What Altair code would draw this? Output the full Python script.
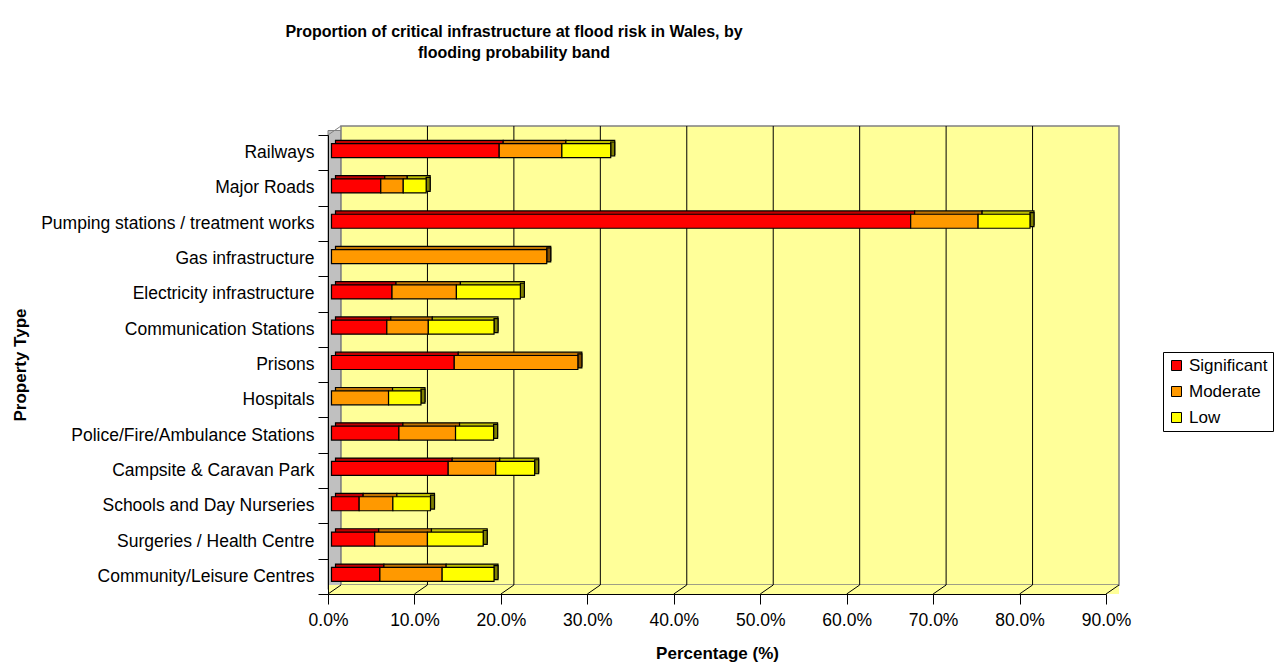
import altair as alt
import pandas as pd

# Property types, top to bottom
categories = [
    "Railways",
    "Major Roads",
    "Pumping stations / treatment works",
    "Gas infrastructure",
    "Electricity infrastructure",
    "Communication Stations",
    "Prisons",
    "Hospitals",
    "Police/Fire/Ambulance Stations",
    "Campsite & Caravan Park",
    "Schools and Day Nurseries",
    "Surgeries / Health Centre",
    "Community/Leisure Centres",
]

# Percentage of each property type in each flooding probability band
significant = [19.4, 5.7, 67.0, 0.0, 7.0, 6.4, 14.2, 0.0, 7.8, 13.5, 3.2, 5.0, 5.6]
moderate = [7.25, 2.6, 7.8, 24.9, 7.45, 4.8, 14.3, 6.6, 6.55, 5.5, 3.9, 6.1, 7.2]
low = [5.65, 2.65, 6.0, 0.0, 7.4, 7.6, 0.0, 3.75, 4.4, 4.5, 4.35, 6.45, 6.0]

bands = ["Significant", "Moderate", "Low"]
face_colors = ["#FF0000", "#FF9900", "#FFFF00"]
top_colors = ["#C00000", "#BF7300", "#BFBF00"]
side_colors = ["#800000", "#804C00", "#808000"]

x_ticks = [0, 10, 20, 30, 40, 50, 60, 70, 80, 90]

W, H = 778, 459          # front frame of the plot
DX, DY = 13, -9          # depth of the 3-D box
BX, BY = 3.5, -2         # bars sit slightly back from the front frame
SX, SY = 4, -3.3         # thickness of each bar block

FONT = "Liberation Sans"
FS = 17.5

# stacked segments in long form
rows = []
for i, cat in enumerate(categories):
    start = 0.0
    parts = []
    for band, vals, tc, sc in zip(bands, [significant, moderate, low], top_colors, side_colors):
        v = vals[i]
        if v > 0:
            parts.append({"cat": cat, "band": band, "start": start, "end": start + v,
                          "top": tc, "side": sc, "last": False})
        start += v
    parts[-1]["last"] = True
    rows.extend(parts)
segs = pd.DataFrame(rows)
ends = segs[segs["last"]]

x_scale = alt.Scale(domain=[0, 90], nice=False, zero=True)
y_enc = alt.Y("cat:N", sort=categories,
              scale=alt.Scale(domain=categories, paddingInner=0, paddingOuter=0),
              axis=alt.Axis(title="Property Type", titleFont=FONT, titleFontSize=17,
                            titleFontWeight="bold", titleAngle=-90, titleX=-308, titleY=H / 2,
                            titleAlign="center", titleBaseline="middle",
                            labelFont=FONT, labelFontSize=FS, labelColor="#000000",
                            labelPadding=4, labelLimit=400, tickBand="extent", tickSize=10,
                            tickColor="#000000", domainColor="#000000", grid=False,
                            zindex=2))

base = alt.Chart(pd.DataFrame({"k": [0]}))

# left side wall
left_wall = base.mark_rect(fill="#C0C0C0", stroke="#808080", strokeWidth=1,
                           x2Offset=DX).encode(
    x=alt.datum(0, scale=x_scale), x2=alt.datum(0),
    y=alt.value(DY / 2), y2=alt.value(H + DY / 2))

# back wall
back_wall = base.mark_rect(fill="#FFFF99", stroke="#808080", strokeWidth=1.5,
                           xOffset=DX, x2Offset=DX, yOffset=DY, y2Offset=DY).encode(
    x=alt.datum(0, scale=x_scale), x2=alt.datum(90),
    y=alt.value(0), y2=alt.value(H))

# floor
floor = base.mark_rect(fill="#FFFF99", x2Offset=DX).encode(
    x=alt.datum(0, scale=x_scale), x2=alt.datum(90),
    y=alt.value(H + DY), y2=alt.value(H))

grid_df = pd.DataFrame({"t": x_ticks[1:-1]})
gridlines = alt.Chart(grid_df).mark_rule(color="#000000", strokeWidth=1,
                                         xOffset=DX, yOffset=DY, y2Offset=DY).encode(
    x=alt.X("t:Q", scale=x_scale), y=alt.value(0), y2=alt.value(H))

diag_df = pd.DataFrame({"t": x_ticks})
floor_lines = alt.Chart(diag_df).mark_rule(color="#000000", strokeWidth=1, x2Offset=DX).encode(
    x=alt.X("t:Q", scale=x_scale), x2="t:Q",
    y=alt.value(H), y2=alt.value(H + DY))

top_edge = base.mark_rule(color="#808080", strokeWidth=1, x2Offset=DX).encode(
    x=alt.datum(0, scale=x_scale), x2=alt.datum(0),
    y=alt.value(0), y2=alt.value(DY))

# bar blocks: a darker block behind each face gives the top face
tops = alt.Chart(segs).mark_bar(size=14, stroke="#000000", strokeWidth=1.2,
                                xOffset=BX + SX, x2Offset=BX + SX, yOffset=BY + SY).encode(
    x=alt.X("start:Q", scale=x_scale), x2="end:Q",
    y=y_enc,
    fill=alt.Fill("top:N", scale=None))

# end face of each bar
sides = alt.Chart(ends).mark_bar(size=14, stroke="#000000", strokeWidth=1.2,
                                 xOffset=BX, x2Offset=BX + SX, yOffset=BY + SY / 2).encode(
    x=alt.X("end:Q", scale=x_scale), x2="end:Q",
    y=y_enc,
    fill=alt.Fill("side:N", scale=None))

faces = alt.Chart(segs).mark_bar(size=14, stroke="#000000", strokeWidth=1.2, opacity=1,
                                 xOffset=BX, x2Offset=BX, yOffset=BY).encode(
    x=alt.X("start:Q", scale=x_scale,
            axis=alt.Axis(values=x_ticks, title="Percentage (%)",
                          labelExpr="format(datum.value, '.1f') + '%'",
                          labelFlush=False, labelOverlap=False,
                          titleFont=FONT, titleFontSize=17, titleFontWeight="bold",
                          titleX=W / 2, titleY=59, titleBaseline="middle",
                          labelFont=FONT, labelFontSize=FS, labelColor="#000000",
                          labelPadding=7, tickSize=10, tickColor="#000000",
                          domainColor="#000000", grid=False, zindex=2)),
    x2="end:Q",
    y=y_enc,
    color=alt.Color("band:N", scale=alt.Scale(domain=bands, range=face_colors),
                    legend=alt.Legend(title=None, orient="none", legendX=835, legendY=217,
                                      direction="vertical", symbolType="square",
                                      symbolSize=100, symbolStrokeColor="#000000",
                                      symbolStrokeWidth=1, symbolOpacity=1,
                                      labelFont=FONT, labelFontSize=17, labelColor="#000000",
                                      labelOffset=4, rowPadding=8, padding=5,
                                      strokeColor="#000000", fillColor="#FFFFFF")))

chart = alt.layer(left_wall, back_wall, floor, gridlines, floor_lines, top_edge,
                  tops, sides, faces).properties(
    width=W, height=H,
    autosize=alt.AutoSizeParams(type="none"),
    padding={"left": 328, "top": 135, "right": 1276 - 328 - W, "bottom": 662 - 135 - H},
    title=alt.TitleParams(
        text=["Proportion of critical infrastructure at flood risk in Wales, by",
              "flooding probability band"],
        font=FONT, fontSize=16, fontWeight="bold", color="#000000",
        anchor="middle", dx=-203, offset=64, lineHeight=21),
    background="#FFFFFF",
).configure_view(strokeWidth=0)

chart.save("out.html", embed_options={"renderer": "svg", "actions": False})
